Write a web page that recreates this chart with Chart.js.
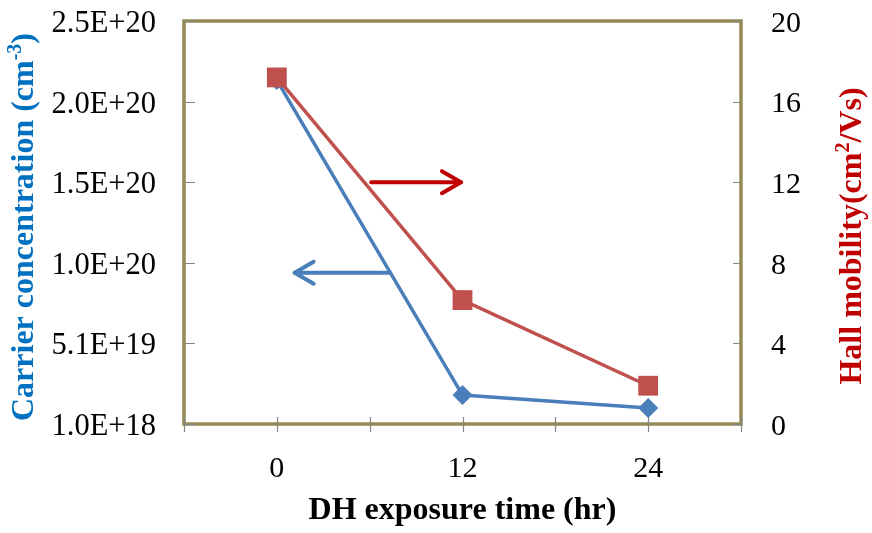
<!DOCTYPE html>
<html><head><meta charset="utf-8">
<script src="https://cdn.jsdelivr.net/npm/chart.js"></script>
<style>html,body{margin:0;padding:0;background:#fff}#wrap{width:872px;height:533px}</style>
</head><body><div id="wrap"><canvas id="c"></canvas></div>
<script>
// ---- data ----
const hours = [0, 12, 24];
const carrierConc = [2.135e20, 1.89e19, 1.09e19];
const hallMobility = [17.2, 6.15, 1.9];
const leftTickValues = [1.0e18, 5.08e19, 1.006e20, 1.504e20, 2.002e20, 2.5e20];
const leftTickLabels = ['1.0E+18', '5.1E+19', '1.0E+20', '1.5E+20', '2.0E+20', '2.5E+20'];
const rightTickValues = [0, 4, 8, 12, 16, 20];
const xTickValues = [-6, 0, 6, 12, 18, 24, 30];
const xTickLabels = {0: '0', 12: '12', 24: '24'};
const redArrow = {from: 6.1, to: 11.9, y: 12};        // mobility axis units
const blueArrow = {from: 7.3, to: 1.15, y: 9.45e19};   // carrier axis units
const xTitle = 'DH exposure time (hr)';
const leftTitle = [{t: 'Carrier concentration (cm'}, {t: '-3', sup: true}, {t: ')'}];
const rightTitle = [{t: 'Hall mobility(cm'}, {t: '2', sup: true}, {t: '/Vs)'}];

const FONT = "'Liberation Serif', 'Times New Roman', serif";
const OLIVE = '#948A54';
const GREY = '#868686';

function drawRich(ctx, parts, cx, cy, rot, color) {
  ctx.save();
  ctx.translate(cx, cy);
  ctx.rotate(rot);
  ctx.fillStyle = color;
  ctx.textBaseline = 'middle';
  ctx.textAlign = 'left';
  const big = 'bold 32px ' + FONT, small = 'bold 20px ' + FONT;
  let total = 0;
  parts.forEach(p => { ctx.font = p.sup ? small : big; p.w = ctx.measureText(p.t).width; total += p.w; });
  let x = -total / 2;
  parts.forEach(p => { ctx.font = p.sup ? small : big; ctx.fillText(p.t, x, p.sup ? -9 : 0); x += p.w; });
  ctx.restore();
}

function arrow(ctx, x0, x1, y, color) {
  ctx.save();
  ctx.strokeStyle = color; ctx.lineWidth = 4; ctx.lineCap = 'round'; ctx.lineJoin = 'round';
  const dir = Math.sign(x1 - x0);
  ctx.beginPath(); ctx.moveTo(x0, y); ctx.lineTo(x1, y); ctx.stroke();
  ctx.beginPath();
  ctx.moveTo(x1 - dir * 19, y - 11); ctx.lineTo(x1, y); ctx.lineTo(x1 - dir * 19, y + 11);
  ctx.stroke();
  ctx.restore();
}

function noPad(s) { s.paddingTop = 0; s.paddingBottom = 0; s.paddingLeft = 0; s.paddingRight = 0; }

const decor = {
  id: 'decor',
  beforeDatasetsDraw(chart) {
    const {ctx, chartArea: a, scales} = chart;
    ctx.save();
    ctx.strokeStyle = OLIVE; ctx.lineWidth = 3.5;
    ctx.strokeRect(a.left, a.top, a.right - a.left, a.bottom - a.top);
    ctx.strokeStyle = GREY; ctx.lineWidth = 1.2;
    ctx.beginPath();
    scales.y.ticks.forEach(t => { const p = Math.round(scales.y.getPixelForValue(t.value)) + 0.5; ctx.moveTo(a.left, p); ctx.lineTo(a.left + 11, p); });
    scales.y2.ticks.forEach(t => { const p = Math.round(scales.y2.getPixelForValue(t.value)) + 0.5; ctx.moveTo(a.right - 8, p); ctx.lineTo(a.right, p); });
    scales.x.ticks.forEach(t => { const p = Math.round(scales.x.getPixelForValue(t.value)) + 0.5; ctx.moveTo(p, a.bottom - 7); ctx.lineTo(p, a.bottom + 8); });
    ctx.stroke();
    ctx.restore();
  },
  afterDatasetsDraw(chart) {
    const {ctx, scales} = chart;
    arrow(ctx, scales.x.getPixelForValue(redArrow.from), scales.x.getPixelForValue(redArrow.to), scales.y2.getPixelForValue(redArrow.y), '#C00000');
    arrow(ctx, scales.x.getPixelForValue(blueArrow.from), scales.x.getPixelForValue(blueArrow.to), scales.y.getPixelForValue(blueArrow.y), '#4A7EBB');
  },
  afterDraw(chart) {
    const {ctx, chartArea: a} = chart;
    ctx.save();
    ctx.fillStyle = '#000'; ctx.font = 'bold 32px ' + FONT; ctx.textAlign = 'center'; ctx.textBaseline = 'middle';
    ctx.fillText(xTitle, (a.left + a.right) / 2, 511);
    ctx.restore();
    drawRich(ctx, leftTitle, 25, 227, -Math.PI / 2, '#0070C0');
    drawRich(ctx, rightTitle, 853, 236, -Math.PI / 2, '#C00000');
  }
};

new Chart(document.getElementById('c'), {
  type: 'line',
  data: {
    datasets: [
      {
        label: 'Hall mobility', yAxisID: 'y2', order: 0,
        data: hours.map((h, i) => ({x: h, y: hallMobility[i]})),
        borderColor: '#C0504D', backgroundColor: '#C0504D', borderWidth: 3.5,
        pointStyle: 'rect', pointRadius: 14, pointHoverRadius: 14, pointBorderWidth: 0, tension: 0
      },
      {
        label: 'Carrier concentration', yAxisID: 'y', order: 1,
        data: hours.map((h, i) => ({x: h, y: carrierConc[i]})),
        borderColor: '#4A7EBB', backgroundColor: '#4A7EBB', borderWidth: 3.5,
        pointStyle: 'rectRot', pointRadius: 10, pointHoverRadius: 10, pointBorderWidth: 0, tension: 0
      }
    ]
  },
  options: {
    responsive: true, maintainAspectRatio: false, animation: false,
    layout: {padding: {top: 21, left: 0, right: 0, bottom: 0}},
    plugins: {legend: {display: false}, tooltip: {enabled: false}},
    scales: {
      x: {
        type: 'linear', min: xTickValues[0], max: xTickValues[xTickValues.length - 1],
        afterBuildTicks: s => { s.ticks = xTickValues.map(v => ({value: v})); },
        afterFit: s => { s.height = 109; noPad(s); },
        grid: {display: false, drawTicks: false}, border: {display: false},
        ticks: {padding: 27, maxRotation: 0, autoSkip: false, color: '#000', font: {family: FONT, size: 30},
          callback: v => (xTickLabels[v] !== undefined ? xTickLabels[v] : '')}
      },
      y: {
        type: 'linear', position: 'left', min: leftTickValues[0], max: leftTickValues[leftTickValues.length - 1],
        afterBuildTicks: s => { s.ticks = leftTickValues.map(v => ({value: v})); },
        afterFit: s => { s.width = 184; noPad(s); },
        grid: {display: false, drawTicks: false}, border: {display: false},
        ticks: {padding: 28, labelOffset: 3, autoSkip: false, color: '#000', font: {family: FONT, size: 30.5},
          callback: (v, i) => leftTickLabels[i]}
      },
      y2: {
        type: 'linear', position: 'right', min: rightTickValues[0], max: rightTickValues[rightTickValues.length - 1],
        afterBuildTicks: s => { s.ticks = rightTickValues.map(v => ({value: v})); },
        afterFit: s => { s.width = 131; noPad(s); },
        grid: {display: false, drawTicks: false}, border: {display: false},
        ticks: {padding: 30, labelOffset: 3, autoSkip: false, color: '#000', font: {family: FONT, size: 30},
          callback: v => String(v)}
      }
    }
  },
  plugins: [decor]
});
</script>
</body></html>
